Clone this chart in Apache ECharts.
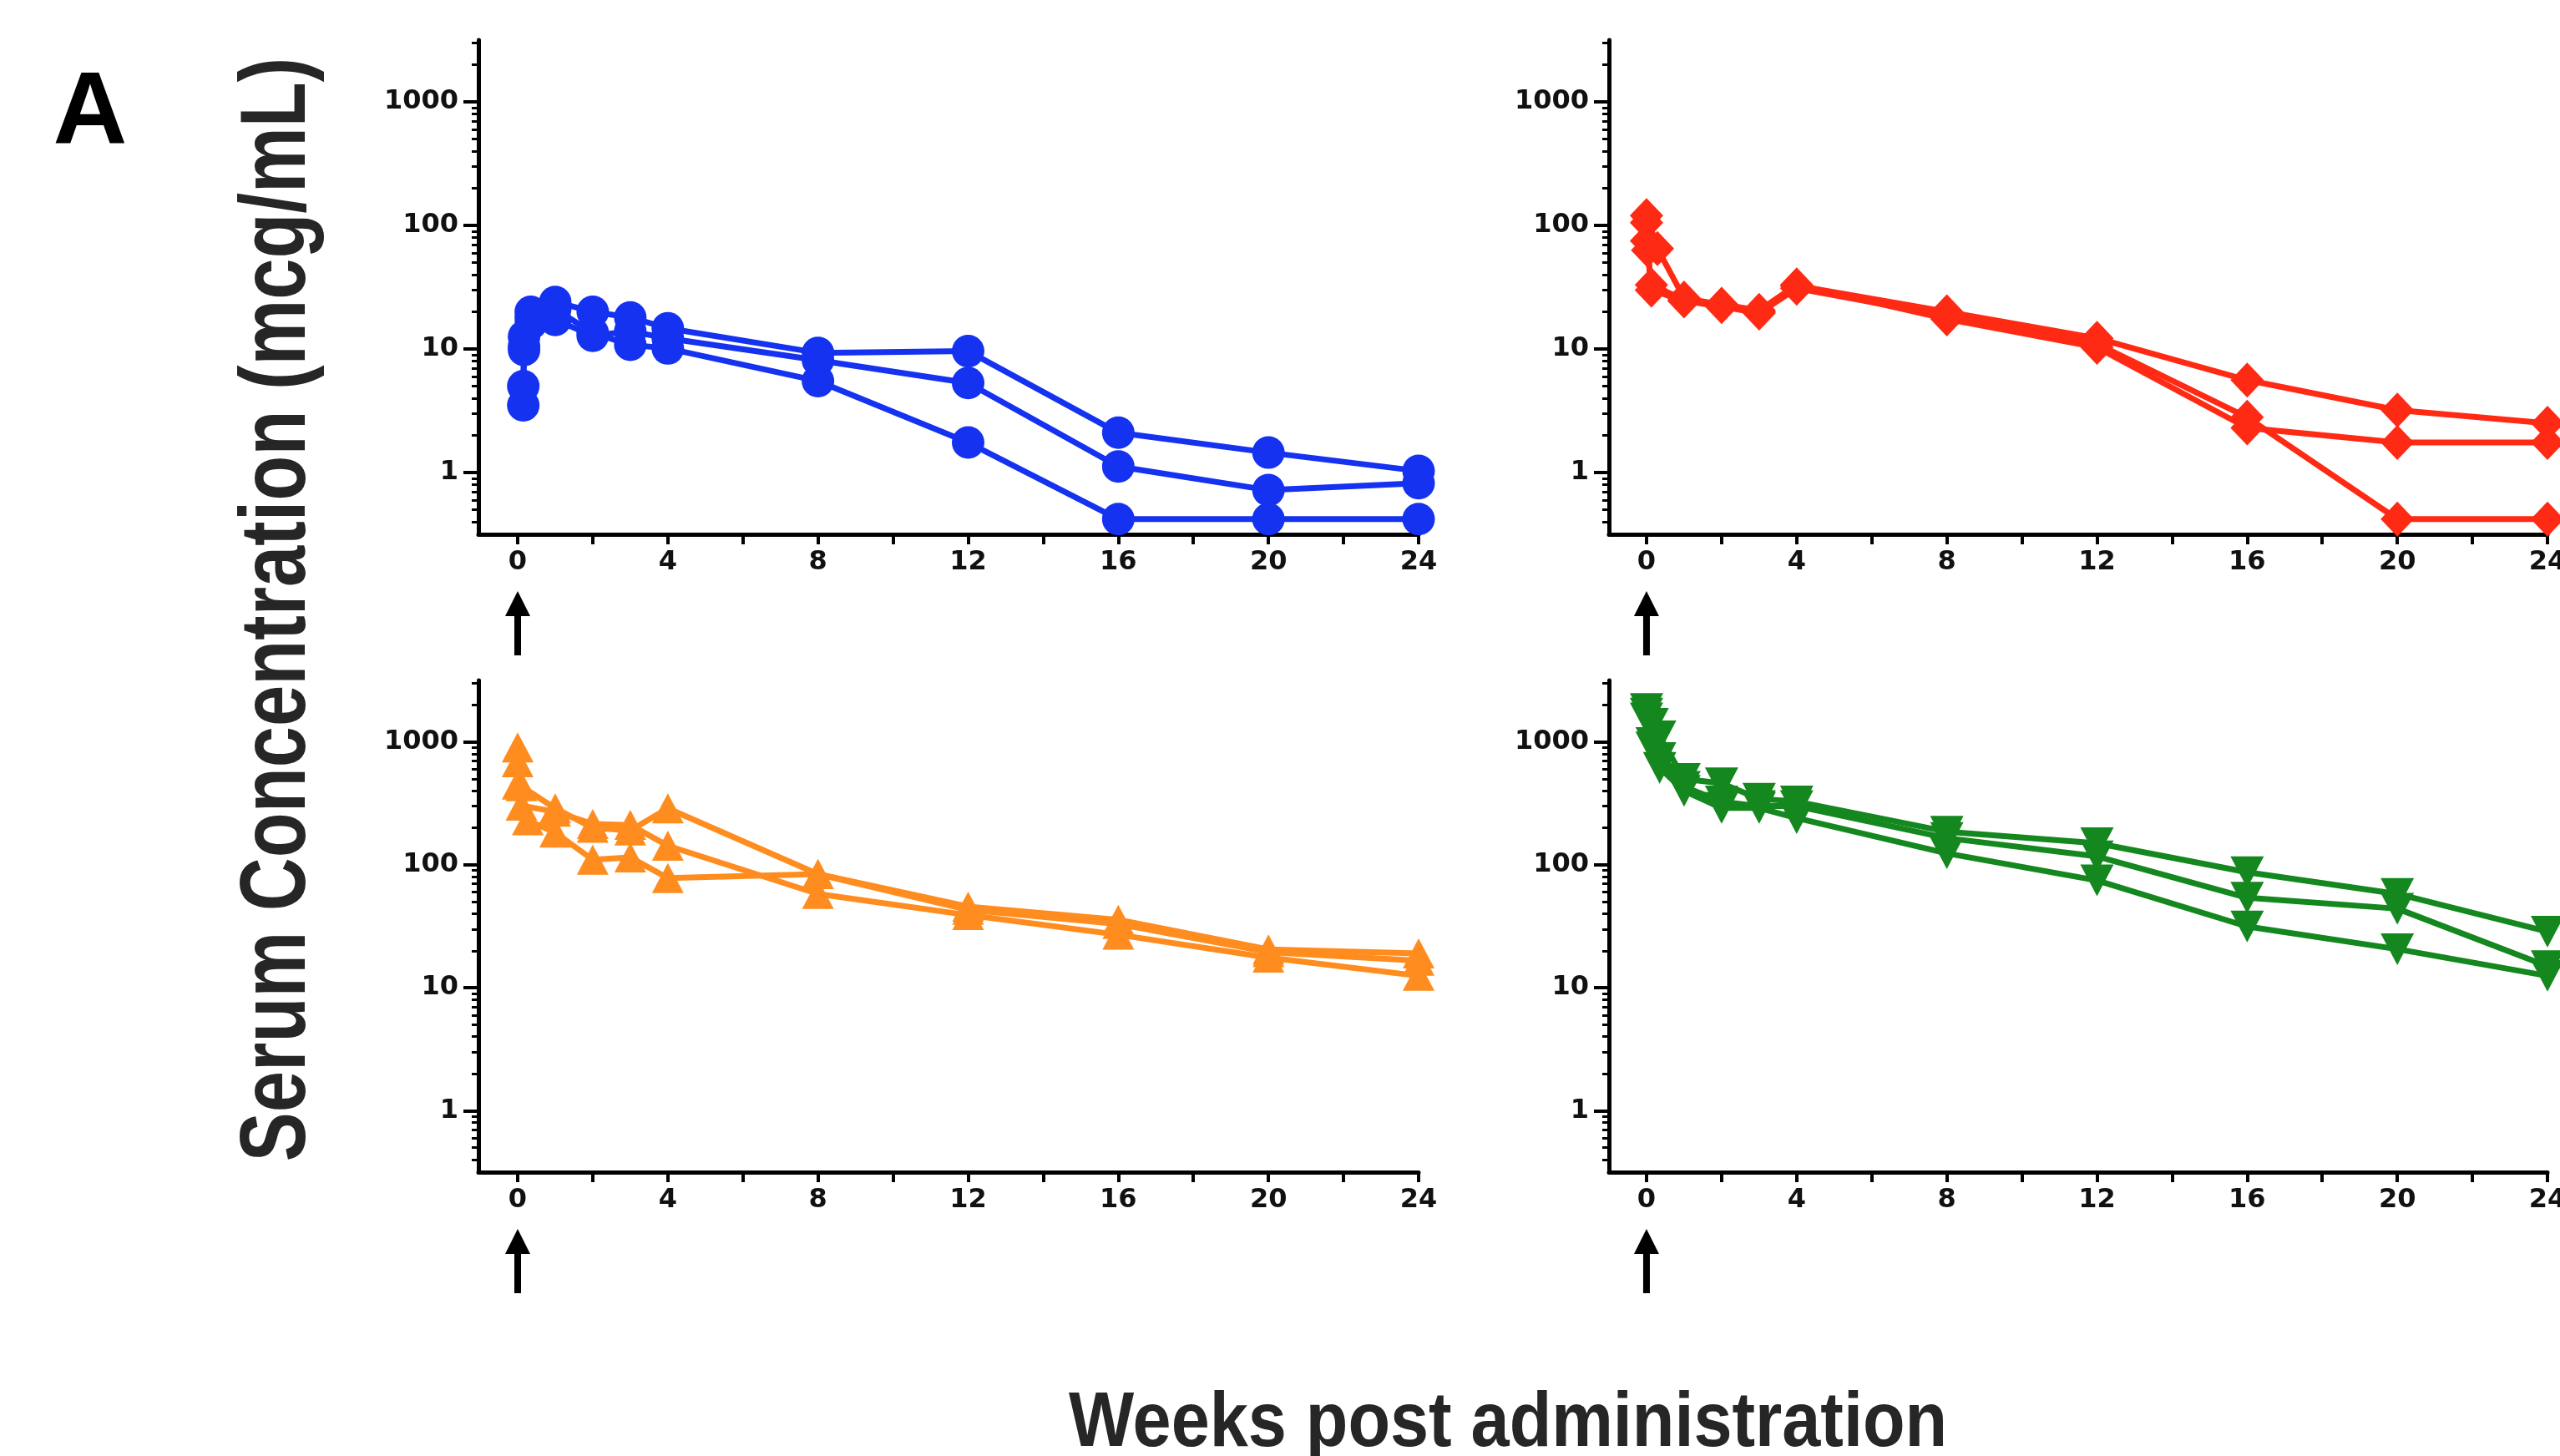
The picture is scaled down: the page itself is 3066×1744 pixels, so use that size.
<!DOCTYPE html>
<html>
<head>
<meta charset="utf-8">
<title>Serum concentration</title>
<style>
  html, body { margin: 0; padding: 0; background: #fff; }
  #chart { width: 3066px; height: 1744px; }
</style>
<script src="https://cdn.jsdelivr.net/npm/echarts@6/dist/echarts.min.js"></script>
</head>
<body>
<div id="chart"></div>
<script>
// weeks post administration, one array per panel (null = no sample)
const weeksBlue = [0.15, 0.17, 0.35, 1, 2, 3, 4, 8, 12, 16, 20, 24]
const blue1 = [3.5, 12.6, 20, 24, 20, 18, 14.7, 9.3, 9.6, 2.1, 1.45, 1.03]
const blue2 = [5.0, 10.5, 18, 17.2, 12.8, 13.9, 12.2, 8.1, 5.3, 1.12, 0.72, 0.82]
const blue3 = [null, 9.8, 16, 21, 13.5, 10.8, 10.1, 5.5, 1.75, 0.42, 0.42, 0.42]

const weeksRed = [0, 0.03, 0.13, 0.29, 1, 2, 3, 4, 8, 12, 16, 20, 24]
const red1 = [120, null, null, 65, 25.8, 22.8, 20, 32.5, 20, 12.2, 5.6, 3.2, 2.5]
const red2 = [105, 63, 30, null, 24.5, 22, 19.5, 31, 18.5, 11, 2.8, 0.42, 0.42]
const red3 = [75, null, 33, null, 25, 23, 20.5, 33, 17.5, 10.3, 2.3, 1.75, 1.75]

const weeksOrange = [0, 0.1, 0.27, 1, 2, 3, 4, 8, 12, 16, 20, 24]
const orange1 = [900, 435, null, 288, 200, 190, 288, 84, 45.7, 35.7, 20.5, 19]
const orange2 = [684, 303, null, 270, 215, 211, 143, 58, 39, 27, 17.6, 12.5]
const orange3 = [450, null, 230, 183, 110, 115, 78, 84, 43, 33, 19.5, 16.6]

const weeksGreen = [0, 0.15, 0.35, 1, 2, 3, 4, 8, 12, 16, 20, 24]
const green1 = [1850, 1400, 1110, 500, 460, 344, 327, 186, 150, 87, 58, 28.6]
const green2 = [1700, 980, 740, 430, 327, 300, 300, 165, 117, 54, 44, 15]
const green3 = [1550, 900, 615, 400, 290, 290, 240, 124, 74.6, 31.5, 20.6, 12.5]

// tick labels
const xTicks = [0, 2, 4, 6, 8, 10, 12, 14, 16, 18, 20, 22, 24]
const xLabels = [0, 4, 8, 12, 16, 20, 24]
const yLabels = [1, 10, 100, 1000]
const yMinorSteps = [2, 3, 4, 5, 6, 7, 8, 9]

const yMin = Math.pow(10, -0.5)
const yMax = Math.pow(10, 3.5)
const yMinor = []
;[0.1, 1, 10, 100, 1000].forEach(d => {
  yMinorSteps.forEach(s => {
    const v = d * s
    if (v > yMin && v < yMax) yMinor.push(v)
  })
})

const chart = echarts.init(document.getElementById('chart'), null, { renderer: 'canvas' })

const labelFont = { fontFamily: 'DejaVu Sans', fontWeight: 'bold', fontSize: 32, color: '#111' }

const grids = [
  { left: 573, top: 48, width: 1126, height: 592 },
  { left: 1927, top: 48, width: 1124, height: 592 },
  { left: 573, top: 815, width: 1126, height: 589 },
  { left: 1927, top: 815, width: 1124, height: 589 }
].map(g => Object.assign({ outerBoundsMode: 'none', containLabel: false }, g))

const xMins = [-1.045, -1.0, -1.045, -1.0]

const xAxis = grids.map((g, i) => ({
  type: 'value',
  gridIndex: i,
  min: xMins[i],
  max: 24,
  axisLine: { show: true, onZero: false, lineStyle: { color: '#000', width: 5 } },
  axisTick: { show: true, customValues: xTicks, length: 12, lineStyle: { color: '#000', width: 4 } },
  axisLabel: Object.assign({ customValues: xLabels, margin: 18, formatter: v => String(v) }, labelFont),
  splitLine: { show: false }
}))

const yAxis = []
grids.forEach((g, i) => {
  // major ticks + labels
  yAxis.push({
    type: 'log',
    logBase: 10,
    gridIndex: i,
    position: 'left',
    min: yMin,
    max: yMax,
    axisLine: { show: true, onZero: false, lineStyle: { color: '#000', width: 5 } },
    axisTick: { show: true, customValues: yLabels, length: 18, lineStyle: { color: '#000', width: 4 } },
    axisLabel: Object.assign({ customValues: yLabels, margin: 24, formatter: v => String(Math.round(v)) }, labelFont),
    splitLine: { show: false }
  })
  // minor ticks only
  yAxis.push({
    type: 'log',
    logBase: 10,
    gridIndex: i,
    position: 'left',
    min: yMin,
    max: yMax,
    axisLine: { show: false, onZero: false },
    axisTick: { show: true, customValues: yMinor, length: 8, lineStyle: { color: '#000', width: 3 } },
    axisLabel: { show: false },
    splitLine: { show: false }
  })
})

const subject = (weeks, vals, panel, color, symbol, size, rotate) => ({
  type: 'line',
  xAxisIndex: panel,
  yAxisIndex: panel * 2,
  data: weeks.map((w, i) => [w, vals[i]]).filter(p => p[1] != null),
  symbol: symbol,
  symbolSize: size,
  symbolRotate: rotate || 0,
  showAllSymbol: true,
  connectNulls: true,
  lineStyle: { color: color, width: 7 },
  itemStyle: { color: color },
  emphasis: { disabled: true },
  animation: false
})

const BLUE = '#1432f0'
const RED = '#ff2a14'
const ORANGE = '#ff8c1e'
const GREEN = '#14871e'

const series = [
  subject(weeksBlue, blue1, 0, BLUE, 'circle', 39),
  subject(weeksBlue, blue2, 0, BLUE, 'circle', 39),
  subject(weeksBlue, blue3, 0, BLUE, 'circle', 39),
  subject(weeksRed, red1, 1, RED, 'diamond', [40, 42]),
  subject(weeksRed, red2, 1, RED, 'diamond', [40, 42]),
  subject(weeksRed, red3, 1, RED, 'diamond', [40, 42]),
  subject(weeksOrange, orange1, 2, ORANGE, 'triangle', [38, 36]),
  subject(weeksOrange, orange2, 2, ORANGE, 'triangle', [38, 36]),
  subject(weeksOrange, orange3, 2, ORANGE, 'triangle', [38, 36]),
  subject(weeksGreen, green1, 3, GREEN, 'triangle', [40, 38], 180),
  subject(weeksGreen, green2, 3, GREEN, 'triangle', [40, 38], 180),
  subject(weeksGreen, green3, 3, GREEN, 'triangle', [40, 38], 180)
]

const titleFont = '"Liberation Sans", Arial, sans-serif'

chart.setOption({
  backgroundColor: '#fff',
  animation: false,
  grid: grids,
  xAxis: xAxis,
  yAxis: yAxis,
  series: series
})

// dosing arrows under week 0, and the figure texts
const graphics = [
  {
    type: 'text', x: 108, y: 138,
    style: { text: 'A', x: 0, y: 0, align: 'center', verticalAlign: 'middle', fill: '#000',
      font: 'bold 123px ' + titleFont }
  },
  {
    // narrowed Arial-style bold, reading bottom to top
    type: 'text', x: 334, y: 730, rotation: Math.PI / 2, scaleX: 0.79,
    style: { text: 'Serum Concentration (mcg/mL)', x: 0, y: 0, align: 'center', verticalAlign: 'middle',
      fill: '#262626', font: 'bold 112px ' + titleFont }
  },
  {
    type: 'text', x: 1806, y: 1707, scaleX: 0.9,
    style: { text: 'Weeks post administration', x: 0, y: 0, align: 'center', verticalAlign: 'middle',
      fill: '#262626', font: 'bold 92px ' + titleFont }
  }
]
grids.forEach((g, i) => {
  const p = chart.convertToPixel({ gridIndex: i }, [0, yMin])
  const px = p[0]
  const py = p[1]
  graphics.push({
    type: 'line',
    shape: { x1: px, y1: py + 94, x2: px, y2: py + 145 },
    style: { stroke: '#000', lineWidth: 8 }
  })
  graphics.push({
    type: 'polygon',
    shape: { points: [[px, py + 68], [px - 15, py + 98], [px + 15, py + 98]] },
    style: { fill: '#000' }
  })
})
chart.setOption({ graphic: graphics })
</script>
</body>
</html>
